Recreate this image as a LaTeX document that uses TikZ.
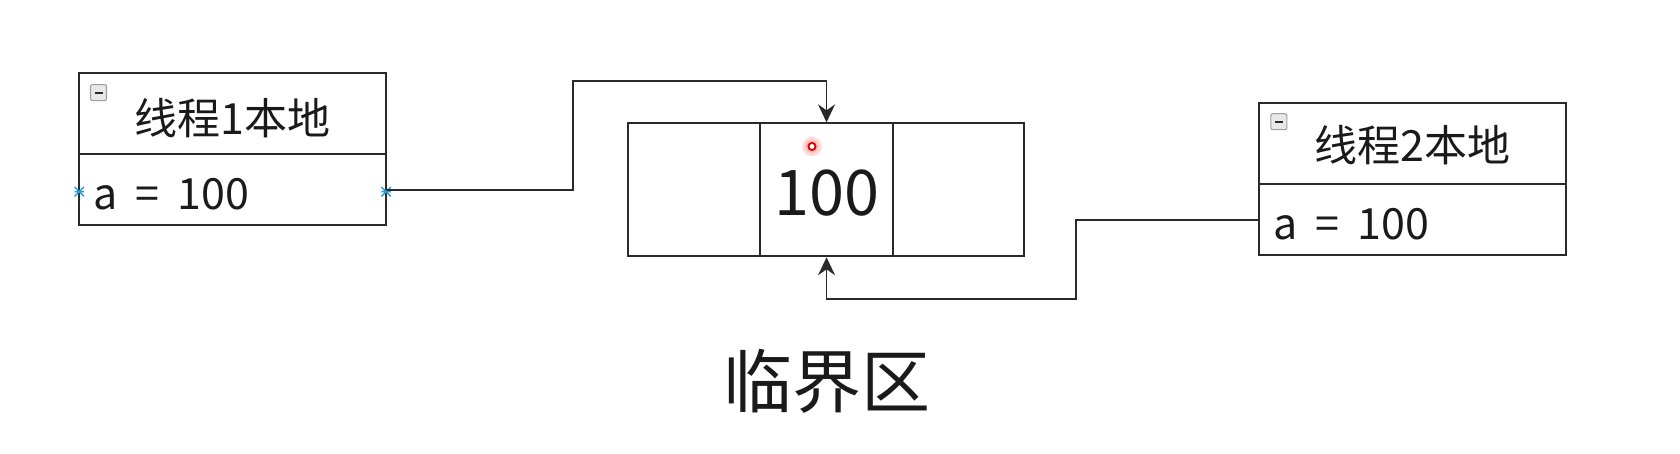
\documentclass[tikz,border=0pt]{standalone}
\usepackage{fontspec}
\setmainfont{Noto Sans CJK SC}
\usetikzlibrary{arrows.meta,fit}
\definecolor{ink}{HTML}{1A1A1A}
\definecolor{edge}{HTML}{2A2A2A}
\definecolor{markblue}{HTML}{2E9BD6}
\tikzset{
  boxpart/.style={draw=edge, line width=1.9pt, inner sep=0pt, fill=none},
  conn/.style={draw=edge, line width=1.7pt, -{Stealth[length=18pt,width=17pt,inset=6pt]}},
  titletext/.style={inner sep=0pt, text=ink, font=\fontsize{43}{50}\selectfont},
  valtext/.style={inner sep=0pt, text=ink, anchor=west, font=\fontsize{43}{50}\selectfont},
  bigval/.style={inner sep=0pt, text=ink, font=\fontsize{63}{70}\selectfont},
  caption/.style={inner sep=0pt, text=ink, font=\fontsize{69}{76}\selectfont},
  minusicon/.style={draw=gray!75, fill=gray!18, rounded corners=2pt, line width=1.1pt, minimum size=16pt, inner sep=0pt},
  markpt/.style={inner sep=0pt, minimum size=9pt},
}
\begin{document}
\begin{tikzpicture}[x=1.077pt,y=-1.077pt]
\useasboundingbox (0,0) rectangle (1560,421.5);
\fill[white] (0,0) rectangle (1560,421.5);

% left box
\node[boxpart, fit={(73.6,67.5) (358.5,143.3)}] (L1) {};
\node[boxpart, fit={(73.6,143.3) (358.5,209)}] (L2) {};
\node[titletext] (Lt) at (215.5,109.5) {线程1本地};
\node[valtext] (Lv) at (86.7,180.3) {a\hspace{0.42em}=\hspace{0.42em}100};
\node[minusicon] (Li) at (91.5,86) {};
\draw[edge, line width=1.8pt] ([xshift=-4pt]Li.center) -- ([xshift=4pt]Li.center);
\node[markpt] (Lm1) at (73.6,178) {};
\node[markpt] (Lm2) at (358.5,178) {};
\foreach \m in {Lm1,Lm2}{
  \draw[draw=markblue, line width=1.4pt] (\m.north west) -- (\m.south east) (\m.south west) -- (\m.north east) (\m.west) -- (\m.east);
}

% middle cells
\node[boxpart, fit={(583,114.5) (706,238)}] (C1) {};
\node[boxpart, fit={(706,114.5) (829,238)}] (M) {};
\node[boxpart, fit={(829,114.5) (951,238)}] (C3) {};
\node[bigval] (Mv) at (767.5,179.5) {100};
\fill[red!15] (754,136) circle (9);
\fill[red!28] (754,136) circle (6);
\draw[red!85!black, line width=1.8pt, fill=white] (754,136) circle (3.3);

% right box
\node[boxpart, fit={(1169,96) (1454,171)}] (R1) {};
\node[boxpart, fit={(1169,171) (1454,237)}] (R2) {};
\node[titletext] (Rt) at (1311.5,135) {线程2本地};
\node[valtext] (Rv) at (1182.3,208) {a\hspace{0.42em}=\hspace{0.42em}100};
\node[minusicon] (Ri) at (1187.5,113) {};
\draw[edge, line width=1.8pt] ([xshift=-4pt]Ri.center) -- ([xshift=4pt]Ri.center);

% connectors
\coordinate (k1) at (532,75);
\coordinate (k2) at (999,277.8);
\draw[conn] (L2.east) -| (k1) -| (M.north);
\draw[conn] (R2.west) -| (k2) -| (M.south);

% caption
\node[caption] (cap) at (767.5,354) {临界区};
\end{tikzpicture}
\end{document}
